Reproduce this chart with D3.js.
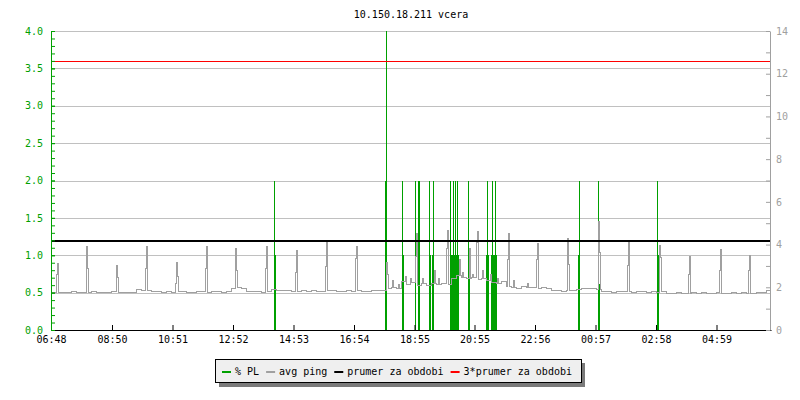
<!DOCTYPE html>
<html>
<head>
<meta charset="utf-8">
<script src="https://cdn.jsdelivr.net/npm/d3@7"></script>
<style>
  body { margin: 0; background: #fff; }
  text { font-family: "DejaVu Sans Mono", monospace; font-size: 10px; }
</style>
</head>
<body>
<svg id="chart" width="800" height="400"></svg>
<script>
var title = "10.150.18.211 vcera";
var xTickLabels = ["06:48", "08:50", "10:51", "12:52", "14:53", "16:54", "18:55", "20:55", "22:56", "00:57", "02:58", "04:59"];
var leftTicks = [0, 0.5, 1, 1.5, 2, 2.5, 3, 3.5, 4];
var rightTicks = [0, 1, 2, 3, 4, 5, 6, 7, 8, 9, 10, 11, 12, 13, 14];

// % PL, minutes after 06:48
var plMin = [446, 448, 668, 670, 702, 704, 728, 734, 736, 756, 758, 762, 764,
  798, 800, 802, 804, 806, 808, 810, 812, 814, 834, 836, 870, 872, 874,
  880, 882, 884, 886, 888, 890, 1054, 1056, 1094, 1096, 1212, 1214];
var plVal = [2, 1, 2, 4, 2, 1, 2, 2, 2, 2, 1, 1, 2,
  2, 1, 1, 2, 1, 2, 1, 2, 1, 2, 1, 1, 2, 1,
  1, 2, 1, 1, 2, 1, 1, 2, 2, 0.62, 2, 1];

// avg ping (ms), one value per 10 minutes
var pingBase = [
  1.76, 1.74, 1.77, 1.75, 1.78, 1.76, 1.75, 1.77, 1.79, 1.76, 1.74, 1.77, 1.78, 1.76, 1.75, 1.77, 1.76,
  1.88, 1.86, 1.84,
  1.78, 1.80, 1.77, 1.79, 1.76, 1.78, 1.80, 1.77, 1.76, 1.79, 1.78, 1.77, 1.80, 1.78, 1.76, 1.79,
  1.94, 1.98, 1.92,
  1.80, 1.78, 1.79, 1.77, 1.80,
  1.88, 1.86, 1.84, 1.87,
  1.82, 1.80, 1.83, 1.81, 1.84, 1.82, 1.80, 1.83, 1.85, 1.81, 1.82, 1.84, 1.80, 1.83, 1.82, 1.81, 1.84, 1.83,
  1.86,
  1.92, 2.00, 1.95,
  2.25, 2.15, 2.22,
  2.10, 2.16, 2.08,
  2.18, 2.12, 2.20, 2.15,
  2.40, 2.55, 2.48, 2.42,
  2.45, 2.35, 2.40, 2.30,
  2.22, 2.18, 2.25,
  2.05, 2.00, 1.96, 2.02, 1.98,
  2.00, 1.96, 1.98, 1.94,
  1.84, 1.86, 1.82, 1.85, 1.83,
  1.90, 1.94, 1.92, 1.95, 1.88,
  1.78, 1.80, 1.77, 1.79, 1.81, 1.78, 1.76, 1.79, 1.80, 1.77, 1.78, 1.76, 1.79,
  1.73, 1.72, 1.74, 1.71, 1.73, 1.75, 1.72, 1.74, 1.73, 1.71, 1.74, 1.72, 1.73, 1.75, 1.72, 1.74, 1.73, 1.72, 1.74,
  1.76, 1.84
];
// short ping peaks (2 minute samples)
var pingSpikeMin = [10, 12, 70, 72, 130, 132, 188, 190, 248, 250, 252, 308, 310, 368, 370, 428, 430,
  488, 490, 548, 550, 608, 610, 670, 672, 682, 694, 708, 718, 728, 730, 742, 766, 774,
  790, 792, 816, 822, 836, 842, 850, 852, 862, 878, 892, 912, 914, 924, 952,
  970, 972, 1032, 1034, 1094, 1096, 1152, 1154, 1216, 1218, 1274, 1276, 1336, 1338, 1394, 1396];
var pingSpikeVal = [2.62, 3.12, 3.89, 2.89, 3.04, 2.45, 2.86, 3.93, 2.19, 3.18, 2.50, 2.86, 3.93, 3.81, 2.80, 2.86, 3.93,
  2.70, 3.71, 2.96, 4.13, 3.36, 3.93, 3.17, 2.60, 2.30, 2.15, 2.50, 2.40, 3.43, 4.53, 2.40, 2.80, 2.40,
  3.83, 4.68, 3.30, 2.70, 3.83, 2.60, 4.10, 4.60, 2.80, 2.60, 2.40, 3.30, 4.53, 2.30, 2.20,
  3.28, 4.06, 4.29, 3.07, 5.07, 3.64, 3.04, 4.13, 3.95, 3.40, 2.60, 3.46, 2.80, 3.75, 2.80, 3.51];

var prumer = 1.2;

var legendItems = [
  { name: "% PL", color: "#00a000" },
  { name: "avg ping", color: "#a0a0a0" },
  { name: "prumer za obdobi", color: "#000000" },
  { name: "3*prumer za obdobi", color: "#ff0000" }
];

var svg = d3.select("#chart");
var x0 = 51, x1 = 771, yTop = 31, yBot = 330;

var t0 = new Date(2020, 0, 1, 6, 48);
function at(m) { return new Date(t0.getTime() + m * 60000); }

var x = d3.scaleTime().domain([t0, at(1440)]).range([x0, x1]);
var yL = d3.scaleLinear().domain([0, 4]).range([yBot, yTop]);
var yR = d3.scaleLinear().domain([0, 14]).range([yBot, yTop]);

// tick dates from labels
var tickDates = xTickLabels.map(function (s) {
  var p = s.split(":");
  var d = new Date(2020, 0, 1, +p[0], +p[1]);
  if (d < t0) d = new Date(2020, 0, 2, +p[0], +p[1]);
  return d;
});

// title
svg.append("text")
  .attr("x", (x0 + x1) / 2)
  .attr("y", 18)
  .attr("text-anchor", "middle")
  .attr("fill", "#000")
  .text(title);

// grid
svg.append("g").selectAll("rect")
  .data(leftTicks.filter(d => d > 0))
  .enter().append("rect")
  .attr("x", x0).attr("width", 770 - x0)
  .attr("y", d => Math.round(yL(d)))
  .attr("height", 1)
  .attr("fill", "#c0c0c0");

// % PL bars
svg.append("g").selectAll("rect")
  .data(plMin.map((m, i) => ({ t: at(m), v: plVal[i] })))
  .enter().append("rect")
  .attr("x", d => Math.round(x(d.t)))
  .attr("width", 1)
  .attr("y", d => Math.round(yL(d.v)))
  .attr("height", d => yBot - Math.round(yL(d.v)))
  .attr("fill", "#00a000");

// avg ping
var spikes = {};
pingSpikeMin.forEach(function (m, i) { spikes[m] = pingSpikeVal[i]; });
var pingData = [];
for (var m = 0; m < 1440; m += 2) {
  pingData.push({ t: at(m), v: spikes[m] !== undefined ? spikes[m] : pingBase[Math.floor(m / 10)] });
}
pingData.push({ t: at(1440), v: pingBase[pingBase.length - 1] });

svg.append("path")
  .datum(pingData)
  .attr("fill", "none")
  .attr("stroke", "#a0a0a0")
  .attr("stroke-width", 1)
  .attr("shape-rendering", "crispEdges")
  .attr("d", d3.line().curve(d3.curveStepAfter).x(d => x(d.t)).y(d => yR(d.v)));

// averages
svg.append("rect")
  .attr("x", x0).attr("width", 770 - x0)
  .attr("y", Math.round(yL(prumer))).attr("height", 2)
  .style("fill", "#000000");
svg.append("rect")
  .attr("x", x0).attr("width", 770 - x0)
  .attr("y", Math.round(yL(prumer * 3))).attr("height", 1)
  .style("fill", "#ff0000");

// bottom axis
var ax = svg.append("g")
  .attr("transform", "translate(0," + yBot + ")")
  .call(d3.axisBottom(x).tickValues(tickDates).tickSize(-5).tickSizeOuter(0).tickPadding(6)
    .tickFormat(d3.timeFormat("%H:%M")));
ax.selectAll("path, line").attr("stroke", "#000");
ax.selectAll("text").attr("fill", "#000").style("font-size", "10px").style("font-family", "DejaVu Sans Mono");

// left axis
var axL = svg.append("g")
  .attr("transform", "translate(" + x0 + ",0)")
  .call(d3.axisLeft(yL).tickValues(leftTicks).tickSize(-4).tickSizeOuter(0).tickPadding(8)
    .tickFormat(d3.format(".1f")));
axL.selectAll("path, line").attr("stroke", "#00a000");
axL.selectAll("text").attr("fill", "#00a000").style("font-size", "10px").style("font-family", "DejaVu Sans Mono");

var minor = svg.append("g")
  .attr("transform", "translate(" + x0 + ",0)")
  .call(d3.axisLeft(yL).tickValues(d3.range(0, 41).map(d => d / 10)).tickSize(-4).tickFormat(""));
minor.select(".domain").remove();
minor.selectAll("line").attr("stroke", "#00a000");

// right axis
var axR = svg.append("g")
  .attr("transform", "translate(770,0)")
  .call(d3.axisRight(yR).tickValues(rightTicks).tickSize(-4).tickSizeOuter(0).tickPadding(6)
    .tickFormat(d => d % 2 === 0 ? d : ""));
axR.selectAll("path, line").attr("stroke", "#a0a0a0");
axR.selectAll("text").attr("fill", "#a0a0a0").style("font-size", "10px").style("font-family", "DejaVu Sans Mono");

// legend
var lg = svg.append("g");
lg.append("rect").attr("x", 219).attr("y", 363).attr("width", 366).attr("height", 24).attr("fill", "#7a7a7a");
lg.append("rect").attr("x", 215.5).attr("y", 359.5).attr("width", 366).attr("height", 23)
  .attr("fill", "#efefef").attr("stroke", "#000");
var cx = 222;
legendItems.forEach(function (it) {
  lg.append("rect").attr("x", cx).attr("y", 371).attr("width", 9).attr("height", 2).attr("fill", it.color);
  var t = lg.append("text").attr("x", cx + 13).attr("y", 375).attr("fill", "#000").text(it.name);
  cx += 13 + t.node().getComputedTextLength() + 7;
});
</script>
</body>
</html>
